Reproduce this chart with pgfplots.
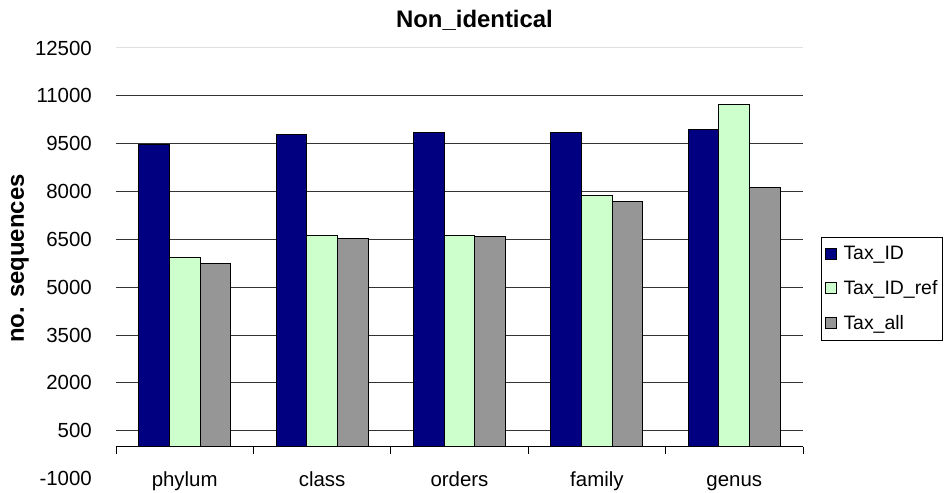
\documentclass[border=0pt]{standalone}
\usepackage{fontspec}
\setmainfont{Liberation Sans}
\usepackage{pgfplots}
\pgfplotsset{compat=1.18}
\definecolor{taxid}{RGB}{0,0,128}
\definecolor{taxref}{RGB}{204,255,204}
\definecolor{taxall}{RGB}{150,150,150}

\begin{document}
\begin{tikzpicture}
\useasboundingbox (0,0) rectangle (950bp,493bp);
\begin{axis}[
  at={(116bp,14.4bp)}, anchor=south west,
  width=687bp, height=430.6bp, scale only axis,
  xmin=-0.5, xmax=4.5, ymin=-1000, ymax=12500,
  axis x line*=middle, axis y line*=left,
  y axis line style={draw=none},
  x axis line style={black, line width=1bp},
  hide obscured x ticks=false,
  tick align=outside,
  major tick length=7bp,
  xtick={-0.5,0.5,...,4.5}, xticklabels={},
  xtick style={black, line width=1bp},
  extra x ticks={0,1,2,3,4},
  extra x tick labels={phylum,class,orders,family,genus},
  extra x tick style={major tick length=0pt,
    xticklabel style={anchor=base, inner sep=0pt, yshift=-39.5bp}},
  ytick={500,2000,...,11000},
  extra y ticks={-1000,12500},
  extra y tick style={grid=none},
  ytick style={draw=none},
  ymajorgrids, grid style={black!80, line width=0.9bp},
  yticklabel style={anchor=east, inner sep=0pt, xshift=-17bp},
  scaled y ticks=false,
  /pgf/number format/assume math mode=true,
  /pgf/number format/1000 sep={},
  tick label style={font=\fontsize{20.5}{24}\selectfont},
  ybar=0pt, bar width=0.2234,
  title={Non\_identical},
  title style={at={(0.5218,1.0348)}, anchor=base, inner sep=0pt,
    font=\bfseries\fontsize{24}{28}\selectfont},
  ylabel={no. sequences},
  ylabel style={at={(-0.14,0.5111)}, anchor=center, inner sep=0pt,
    font=\bfseries\fontsize{24}{28}\selectfont},
  legend style={at={(1.0262,0.562)}, anchor=north west, draw=black,
    line width=1bp, font=\fontsize{19.5}{23}\selectfont,
    /tikz/row sep=15.5bp, inner xsep=3bp, inner ysep=7bp},
  legend cell align=left,
  legend image code/.code={
    \draw[#1, line width=1bp] (0bp,-5.5bp) rectangle (11bp,5.5bp);
    \path (16bp,0bp);},
]
\draw[black!12, line width=1bp] (rel axis cs:0,1) -- (rel axis cs:1,1);
\addplot[fill=taxid, draw=black, line width=1bp]
  coordinates {(0,9470) (1,9790) (2,9860) (3,9850) (4,9950)};
\addplot[fill=taxref, draw=black, line width=1bp]
  coordinates {(0,5920) (1,6630) (2,6620) (3,7890) (4,10730)};
\addplot[fill=taxall, draw=black, line width=1bp]
  coordinates {(0,5750) (1,6540) (2,6580) (3,7700) (4,8130)};
\legend{Tax\_ID,Tax\_ID\_ref,Tax\_all}
\end{axis}
\end{tikzpicture}
\end{document}
